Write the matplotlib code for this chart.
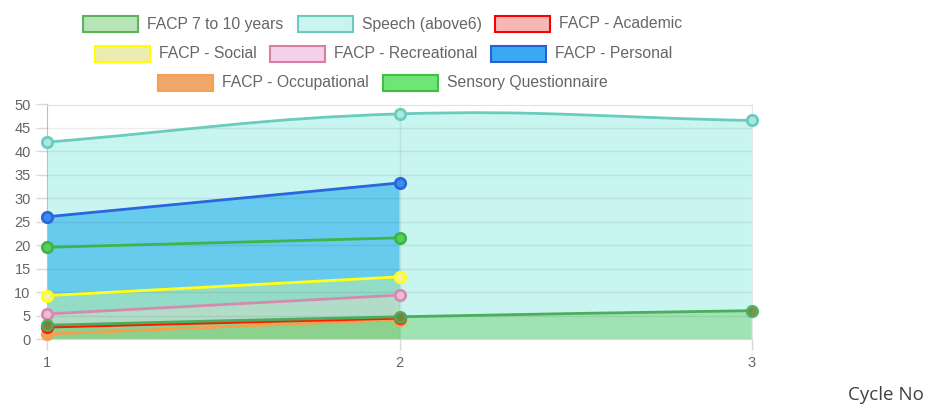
import numpy as np
import matplotlib
matplotlib.use("Agg")
import matplotlib.pyplot as plt
from matplotlib.path import Path
from matplotlib.patches import PathPatch, Rectangle

# data
cycles = [1, 2, 3]
facp_7_10 = [3.0, 4.8, 6.1]
speech = [42.0, 48.0, 46.6]
academic = [2.6, 4.5]
social = [9.3, 13.3]
recreational = [5.4, 9.4]
personal = [26.1, 33.3]
occupational = [1.1, 4.2]
sensory = [19.6, 21.6]

labels = ["FACP 7 to 10 years", "Speech (above6)", "FACP - Academic",
          "FACP - Social", "FACP - Recreational", "FACP - Personal",
          "FACP - Occupational", "Sensory Questionnaire"]
values = [facp_7_10, speech, academic, social, recreational, personal,
          occupational, sensory]

# line colour, area colour, marker face, legend fill, legend edge, fill zorder
styles = [
    ("#4cae5c", (0.38, 0.79, 0.35, 0.4), "#6b8a3c", "#b7e4b7", "#5cb35c", 6),
    ("#6bcbbd", "#c9f5f0", "#a9e9df", "#c9f5f0", "#6ccabc", 1),
    ("#ff1a00", "#a9d8b4", "#e85a3a", "#f7b7b7", "#ff0000", 5),
    ("#ffff1a", "#93dcc8", "#f2f2a0", "#ececb0", "#ffff00", 3),
    ("#d48cae", "#b0dcc8", "#eebad4", "#f4d0ea", "#d880a4", 4),
    ("#2a66dc", "#67cbee", "#3a8ef0", "#3aa8f5", "#2a60d0", 2),
    ("#f4a04c", "#a9d8b4", "#f3a15c", "#f0a86a", "#f8a050", 5),
    ("#3cb54a", None, "#5ccd5c", "#6ee676", "#40c040", 0),
]

W, H = 925, 408
fig = plt.figure(figsize=(W / 100, H / 100), dpi=100)
x0, x1, y0, y1 = 47.3, 751.7, 339.3, 104.5
ax = fig.add_axes([x0 / W, 1 - y0 / H, (x1 - x0) / W, (y0 - y1) / H])
ax.set_xlim(1, 3)
ax.set_ylim(0, 50)


def spline_verts(xs, ys, t=0.4):
    # chart.js style bezier, worked out in pixel space
    pts = ax.transData.transform(np.column_stack([xs, ys]))
    n = len(pts)
    cp, cn = [], []
    for i in range(n):
        p0 = pts[max(i - 1, 0)]
        p1 = pts[i]
        p2 = pts[min(i + 1, n - 1)]
        d01 = np.hypot(*(p1 - p0))
        d12 = np.hypot(*(p2 - p1))
        s = d01 + d12
        fa = t * d01 / s if s else 0
        fb = t * d12 / s if s else 0
        cp.append(p1 - fa * (p2 - p0))
        cn.append(p1 + fb * (p2 - p0))
    verts = [pts[0]]
    codes = [Path.MOVETO]
    for i in range(n - 1):
        verts += [cn[i], cp[i + 1], pts[i + 1]]
        codes += [Path.CURVE4] * 3
    verts = ax.transData.inverted().transform(np.array(verts))
    return verts, codes


for k, (vals, st) in enumerate(zip(values, styles)):
    line_c, area_c, face_c, _, _, fz = st
    xs = cycles[:len(vals)]
    verts, codes = spline_verts(xs, vals)
    if area_c is not None:
        fv = np.vstack([verts, [[xs[-1], 0], [xs[0], 0], [xs[0], vals[0]]]])
        fc = codes + [Path.LINETO, Path.LINETO, Path.CLOSEPOLY]
        ax.add_patch(PathPatch(Path(fv, fc), facecolor=area_c,
                               edgecolor="none", zorder=fz))
    lz = 20 - k
    ax.add_patch(PathPatch(Path(verts, codes), facecolor="none",
                           edgecolor=line_c, lw=2.0, zorder=lz))
    ax.plot(xs, vals, "o", ms=7.5, mfc=face_c, mec=line_c, mew=2,
            alpha=0.9 if k == 0 else 1, zorder=lz + 20, clip_on=False)

ax.set_xticks(cycles)
ax.set_yticks(range(0, 55, 5))
for s in ax.spines.values():
    s.set_color("#e6e6e6")
ax.spines["left"].set_color("#bfbfbf")
ax.spines["bottom"].set_color("#d9d9d9")
ax.tick_params(length=8, width=1, color="#d9d9d9", labelcolor="#666666",
               labelsize=10.5, pad=4)
for lb in ax.get_xticklabels() + ax.get_yticklabels():
    lb.set_fontfamily("Liberation Sans")
# faint grid over the areas
for yv in range(5, 55, 5):
    ax.axhline(yv, color="black", alpha=0.07, lw=1, zorder=7)
for xv in cycles[1:]:
    ax.axvline(xv, color="black", alpha=0.07, lw=1, zorder=7)

# legend, laid out like the original
legend_pos = [(83, 24), (298, 24), (495, 24),
              (95, 53.5), (270, 53.5), (491, 53.5),
              (158, 82.5), (383, 82.5)]
for (bx, by), lab, st in zip(legend_pos, labels, styles):
    fig.patches.append(Rectangle((bx / W, 1 - (by + 8) / H), 55 / W, 16 / H,
                                 transform=fig.transFigure, facecolor=st[3],
                                 edgecolor=st[4], lw=1.5))
    fig.text((bx + 64) / W, 1 - by / H, lab, fontsize=11.3, color="#666666",
             family="Liberation Sans", va="center", ha="left")

fig.text(924 / W, 1 - 395 / H, "Cycle No", fontsize=13.5, color="#404040",
         family="Open Sans", ha="right", va="center")

fig.savefig("out.png", dpi=100)
